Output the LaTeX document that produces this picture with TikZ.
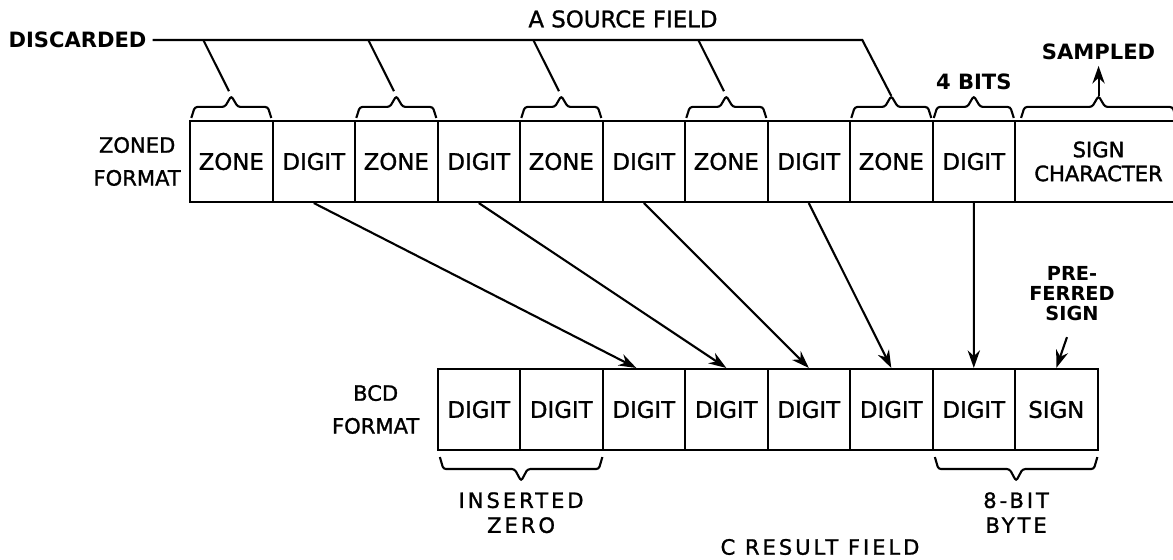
\documentclass[tikz,border=0pt]{standalone}
\usepackage{fontspec}
\setmainfont{DejaVu Sans}
\usetikzlibrary{arrows.meta,calc,positioning}

\tikzset{
  cell/.style={draw,line width=1.2pt,minimum width=1.65cm,minimum height=1.62cm,inner sep=0pt,anchor=west},
  lbl/.style={align=center,font=\fontsize{12}{18.7}\selectfont\addfontfeature{FakeBold=1.2}},
  note/.style={align=center,font=\fontsize{12}{14.2}\selectfont\addfontfeature{LetterSpace=14,FakeBold=1.2}},
  heavy/.style={font=\fontsize{12}{14}\selectfont\bfseries},
  flow/.style={-{Stealth[length=10pt,width=7pt]},line width=1.2pt},
  pics/bkt/.style n args={2}{code={
    \draw[line width=1.2pt,rounded corners=1.5pt] ({-#1/2},0) -- ({-#1/2+0.07},{#2/2}) -- (-0.13,{#2/2}) -- (0,#2) -- (0.13,{#2/2}) -- ({#1/2-0.07},{#2/2}) -- ({#1/2},0);
    \coordinate (-tip) at (0,#2);
  }}
}

\begin{document}
\begin{tikzpicture}[font=\fontsize{13}{15}\selectfont\addfontfeature{FakeBold=1.2}]
  \useasboundingbox (0,0) rectangle (23.46,11.2);
  % zoned source field
  \foreach \txt [count=\i] in {ZONE,DIGIT,ZONE,DIGIT,ZONE,DIGIT,ZONE,DIGIT,ZONE,DIGIT}
    \node[cell] (z\i) at ({3.78+(\i-1)*1.65},7.97) {\txt};
  \node[cell,minimum width=3.34cm,align=center,font=\fontsize{12}{13.6}\selectfont\addfontfeature{FakeBold=1.6}] (zs) at (20.28,7.97) {SIGN\\CHARACTER};
  \node[lbl,left=0.04cm of z1] (zfmt) {ZONED\\FORMAT};
  % bcd result field
  \foreach \txt [count=\i] in {DIGIT,DIGIT,DIGIT,DIGIT,DIGIT,DIGIT,DIGIT,SIGN}
    \node[cell] (b\i) at ({8.73+(\i-1)*1.65},3.01) {\txt};
  \node[lbl,left=0.22cm of b1] (bfmt) {BCD\\FORMAT};
  % braces over the source
  \foreach \i in {1,3,5,7,9,10}
    \pic (zb\i) at ($(z\i.north)+(0,0.04)$) {bkt={1.6}{0.44}};
  \pic (sb) at ($(zs.north)+(0,0.04)$) {bkt={3.1}{0.44}};
  \node[heavy,above=0pt of zb10-tip] (bits) {4 BITS};
  \node[heavy,above=0.6cm of sb-tip] (samp) {SAMPLED};
  \draw[flow] (sb-tip) -- (samp);
  \node (src) at (12.46,10.82) {A SOURCE FIELD};
  \node[heavy] (disc) at (1.55,10.40) {DISCARDED};
  \foreach \i in {1,3,5,7}
    \draw[line width=1.2pt,shorten >=3pt] ($(zb\i-tip |- disc.east)+(-0.56,0)$) -- (zb\i-tip);
  \draw[line width=1.2pt] (disc.east) -- ($(zb9-tip |- disc.east)+(-0.58,0)$) -- (zb9-tip);
  % digits moved down
  \draw[flow] (z2.south) -- ([xshift=-0.15cm]b3.north);
  \foreach \s/\d in {4/4,6/5,8/6,10/7}
    \draw[flow] (z\s.south) -- (b\d.north);
  \node[align=center,font=\fontsize{11}{11.5}\selectfont\bfseries] (pref) at (21.44,5.33) {PRE-\\FERRED\\SIGN};
  \draw[flow] ([xshift=-0.1cm,yshift=-0.2cm]pref.south) -- (b8.north);
  % braces under the result
  \pic (bb1) at ($(b1.south east)+(0,-0.12)$) {bkt={3.25}{-0.48}};
  \pic (bb7) at ($(b7.south east)+(0,-0.12)$) {bkt={3.25}{-0.48}};
  \node[note,below=0.1cm of bb1-tip] (ins) {INSERTED\\ZERO};
  \node[note,below=0.1cm of bb7-tip] (byte) {8-BIT\\BYTE};
  \node[note] (res) at (16.4,0.26) {C RESULT FIELD};
\end{tikzpicture}
\end{document}
